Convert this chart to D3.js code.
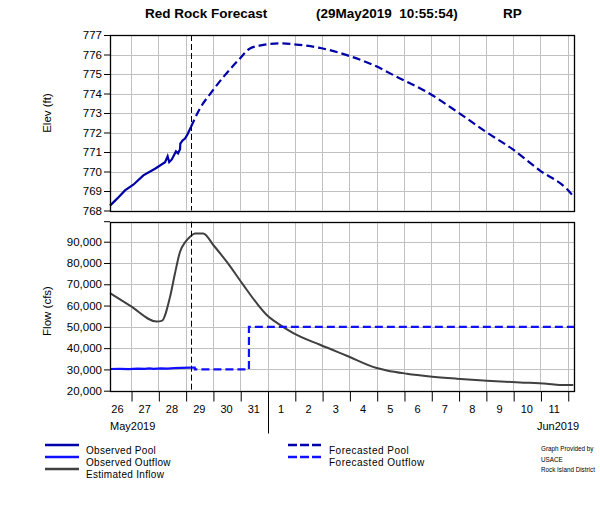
<!DOCTYPE html>
<html><head><meta charset="utf-8">
<script src="https://cdnjs.cloudflare.com/ajax/libs/d3/7.8.5/d3.min.js"></script>
<style>
body{margin:0;background:#fff;}
svg{display:block;font-family:"Liberation Sans",Arial,sans-serif;}
</style></head><body>
<svg id="c" width="600" height="527"></svg>
<script>
// ---- data ----
const titleParts = ["Red Rock Forecast", "(29May2019  10:55:54)", "RP"];
const forecastTime = "2019-05-29 04:40";
const timeDomain = ["2019-05-26 05:30", "2019-06-12 05:30"];
const elevTicks = [768, 769, 770, 771, 772, 773, 774, 775, 776, 777];
const flowTicks = [20000, 30000, 40000, 50000, 60000, 70000, 80000, 90000];
const flowMax = 99400;

const observedPool = [
 ["2019-05-26 05:30",768.25],["2019-05-26 12:00",768.62],["2019-05-26 18:40",769.03],
 ["2019-05-27 02:00",769.32],["2019-05-27 10:50",769.80],["2019-05-27 21:05",770.14],
 ["2019-05-28 05:55",770.48],["2019-05-28 08:10",770.78],["2019-05-28 09:35",770.48],
 ["2019-05-28 11:50",770.62],["2019-05-28 15:30",771.03],["2019-05-28 17:20",770.93],
 ["2019-05-28 19:05",771.14],["2019-05-28 19:20",771.43],["2019-05-28 21:25",771.60],
 ["2019-05-28 23:30",771.69],["2019-05-29 01:30",771.89],["2019-05-29 04:40",772.28]
];
const forecastPool = [
 ["2019-05-29 04:40",772.28],["2019-05-29 12:35",773.23],["2019-05-29 22:55",774.08],
 ["2019-05-30 10:35",774.94],["2019-05-30 23:50",775.80],["2019-05-31 08:35",776.31],
 ["2019-05-31 20:20",776.49],["2019-06-01 11:00",776.57],["2019-06-02 04:35",776.49],
 ["2019-06-02 23:40",776.32],["2019-06-03 21:40",775.97],["2019-06-04 21:00",775.46],
 ["2019-06-05 20:30",774.77],["2019-06-06 20:00",774.08],["2019-06-07 23:50",773.02],
 ["2019-06-08 23:20",772.06],["2019-06-09 22:50",771.17],["2019-06-10 23:35",770.05],
 ["2019-06-11 23:05",769.11],["2019-06-12 04:55",768.73]
];
const estimatedInflow = [
 ["2019-05-26 05:30",65800],["2019-05-26 23:05",60000],["2019-05-27 22:35",52500],
 ["2019-05-28 03:00",52800],["2019-05-28 10:20",64200],["2019-05-28 14:40",75200],
 ["2019-05-28 19:05",85300],["2019-05-28 23:30",89700],["2019-05-29 03:55",92300],
 ["2019-05-29 08:10",93900],["2019-05-29 15:30",93900],["2019-05-30 00:20",88450],
 ["2019-05-30 12:05",80600],["2019-05-31 02:40",69700],["2019-05-31 14:30",61100],
 ["2019-05-31 23:20",55600],["2019-06-01 11:00",50950],["2019-06-01 22:40",47050],
 ["2019-06-02 22:10",41570],["2019-06-03 21:40",36410],["2019-06-05 00:00",30630],
 ["2019-06-05 08:50",29520],["2019-06-06 02:25",28000],["2019-06-06 22:55",26700],
 ["2019-06-07 22:25",25640],["2019-06-09 00:50",24700],["2019-06-10 06:05",23900],
 ["2019-06-11 05:30",23290],["2019-06-11 17:10",22680],["2019-06-12 04:55",22680]
];
const observedOutflow = [
 ["2019-05-26 05:30",30200],["2019-05-26 14:00",30250],["2019-05-26 22:00",30150],
 ["2019-05-27 06:00",30350],["2019-05-27 12:00",30250],["2019-05-27 16:00",30450],
 ["2019-05-27 20:00",30300],["2019-05-28 02:00",30500],["2019-05-28 08:00",30400],
 ["2019-05-28 14:00",30600],["2019-05-28 20:00",30700],["2019-05-29 04:40",30800]
];
const forecastOutflow = [
 ["2019-05-29 04:40",30800],["2019-05-29 08:00",30800],["2019-05-29 08:10",30000],
 ["2019-05-31 07:40",30000],["2019-05-31 07:41",50000],["2019-06-12 05:30",50000]
];
const legendLeft = ["Observed Pool", "Observed Outflow", "Estimated Inflow"];
const legendMid = ["Forecasted Pool", "Forecasted Outflow"];
const credit = ["Graph Provided by", "USACE", "Rock Island District"];

// ---- drawing ----
const parse = d3.timeParse("%Y-%m-%d %H:%M");
const svg = d3.select("#c");
const L = 110, R = 574;
const top1 = 35, bot1 = 210.5;
const top2 = 221.7, bot2 = 390.7;
const x = d3.scaleTime().domain(timeDomain.map(parse)).range([L, R]);
const yE = d3.scaleLinear().domain([768, 777]).range([bot1, top1]);
const yF = d3.scaleLinear().domain([20000, flowMax]).range([bot2, top2]);
const poolCol = "#0000a8", outCol = "#1010ff", inCol = "#404040";
const days = d3.timeDay.range(d3.timeDay.ceil(x.domain()[0]), x.domain()[1]);

// title
const tg = svg.append("g").attr("font-weight","bold").attr("font-size","13.5px").attr("fill","#000");
tg.append("text").attr("x",145).attr("y",18).text(titleParts[0]);
tg.append("text").attr("x",316).attr("y",18).attr("xml:space","preserve").style("white-space","pre").text(titleParts[1]);
tg.append("text").attr("x",503).attr("y",18).text(titleParts[2]);

function panel(y, ticks, top, bot, fmt, extraTopTick){
  const g = svg.append("g");
  g.selectAll("line.gx").data(days).join("line")
    .attr("x1",d=>Math.round(x(d))+0.5).attr("x2",d=>Math.round(x(d))+0.5)
    .attr("y1",top).attr("y2",bot).attr("stroke","#c0c0c0").attr("stroke-width",1);
  g.selectAll("line.gy").data(ticks.slice(1)).join("line")
    .attr("x1",L).attr("x2",R).attr("y1",d=>Math.round(y(d))+0.5).attr("y2",d=>Math.round(y(d))+0.5)
    .attr("stroke","#c0c0c0").attr("stroke-width",1);
  const ax = g.append("g").attr("transform",`translate(${L},0)`)
    .call(d3.axisLeft(y).tickValues(ticks).tickSize(6).tickPadding(2).tickFormat(fmt));
  ax.select(".domain").remove();
  ax.selectAll("text").attr("font-size","11.5px").attr("font-family","Liberation Sans, Arial, sans-serif").attr("fill","#000");
  ax.selectAll("line").attr("stroke","#000");
  if (extraTopTick) g.append("line").attr("x1",L-6).attr("x2",L).attr("y1",top).attr("y2",top).attr("stroke","#000");
  return g;
}
const g1 = panel(yE, elevTicks, top1, bot1, d3.format("d"), false);
const g2 = panel(yF, flowTicks, top2, bot2, d3.format(","), true);

// lines
const lineE = d3.line().x(d=>x(parse(d[0]))).y(d=>yE(d[1]));
const lineF = d3.line().x(d=>x(parse(d[0]))).y(d=>yF(d[1]));
const lineFs = d3.line().x(d=>x(parse(d[0]))).y(d=>yF(d[1])).curve(d3.curveMonotoneX);
g1.append("path").attr("d",lineE(observedPool)).attr("fill","none").attr("stroke",poolCol).attr("stroke-width",2.2);
g1.append("path").attr("d",d3.line().x(d=>x(parse(d[0]))).y(d=>yE(d[1])).curve(d3.curveMonotoneX)(forecastPool)).attr("fill","none").attr("stroke",poolCol).attr("stroke-width",2.2).attr("stroke-dasharray","8,4");
g2.append("path").attr("d",lineFs(estimatedInflow)).attr("fill","none").attr("stroke",inCol).attr("stroke-width",2);
g2.append("path").attr("d",lineF(observedOutflow)).attr("fill","none").attr("stroke",outCol).attr("stroke-width",2.2);
g2.append("path").attr("d",lineF(forecastOutflow)).attr("fill","none").attr("stroke",outCol).attr("stroke-width",2.2).attr("stroke-dasharray","8,4");

// forecast time line
const fx = Math.round(x(parse(forecastTime)))+0.5;
[[top1,bot1],[top2,bot2]].forEach(([a,b])=>{
  svg.append("line").attr("x1",fx).attr("x2",fx).attr("y1",a).attr("y2",b)
    .attr("stroke","#000").attr("stroke-width",1).attr("stroke-dasharray","6,3");
});

// frames
[[top1,bot1],[top2,bot2]].forEach(([a,b])=>{
  svg.append("rect").attr("x",L+0.5).attr("y",Math.round(a)+0.5).attr("width",R-L).attr("height",Math.round(b)-Math.round(a))
    .attr("fill","none").attr("stroke","#000").attr("stroke-width",1.3);
});

// x axis
const xb = Math.round(bot2)+0.5;
const xa = svg.append("g").attr("transform",`translate(0,${xb})`)
  .call(d3.axisBottom(x).tickValues(days).tickSize(10).tickFormat(""));
xa.select(".domain").remove();
xa.selectAll("line").attr("stroke","#000").attr("transform","translate(0.5,0)");
xa.selectAll(".tick line").attr("y2", d=> d.getDate()===1 ? 42 : 10);
const noons = d3.timeDay.range(d3.timeDay.floor(x.domain()[0]), x.domain()[1]).map(d=>d3.timeHour.offset(d,12)).filter(d=>d>=x.domain()[0] && d<=x.domain()[1]);
svg.append("g").selectAll("text").data(noons).join("text")
  .attr("x",d=>x(d)).attr("y",xb+21).attr("text-anchor","middle").attr("font-size","11px").attr("fill","#000")
  .text(d=>d.getDate());
svg.append("text").attr("x",110).attr("y",xb+38).attr("font-size","11px").text(d3.timeFormat("%b%Y")(x.domain()[0]));
svg.append("text").attr("x",537).attr("y",xb+38).attr("font-size","11px").text(d3.timeFormat("%b%Y")(x.domain()[1]));

// y labels
svg.append("text").attr("transform","translate(51,113) rotate(-90)").attr("text-anchor","middle").attr("font-size","11.5px").text("Elev (ft)");
svg.append("text").attr("transform","translate(51,311) rotate(-90)").attr("text-anchor","middle").attr("font-size","11.5px").text("Flow (cfs)");

// legend
const lg = svg.append("g").attr("font-size","10px").attr("fill","#000");
const leftStyles = [poolCol, outCol, inCol];
legendLeft.forEach((t,i)=>{
  const yy = 445 + i*12;
  lg.append("line").attr("x1",45).attr("x2",79).attr("y1",yy).attr("y2",yy).attr("stroke",leftStyles[i]).attr("stroke-width",2.5);
  lg.append("text").attr("x",86).attr("y",yy+9).attr("letter-spacing","0.3px").text(t);
});
const midStyles = [poolCol, outCol];
legendMid.forEach((t,i)=>{
  const yy = 445 + i*12;
  lg.append("line").attr("x1",288).attr("x2",322).attr("y1",yy).attr("y2",yy).attr("stroke",midStyles[i]).attr("stroke-width",2.5).attr("stroke-dasharray","9,3");
  lg.append("text").attr("x",329).attr("y",yy+9).attr("letter-spacing","0.5px").text(t);
});
credit.forEach((t,i)=>{
  lg.append("text").attr("x",541).attr("y",451+i*10.5).attr("font-size","6.3px").text(t);
});
</script>
</body></html>
